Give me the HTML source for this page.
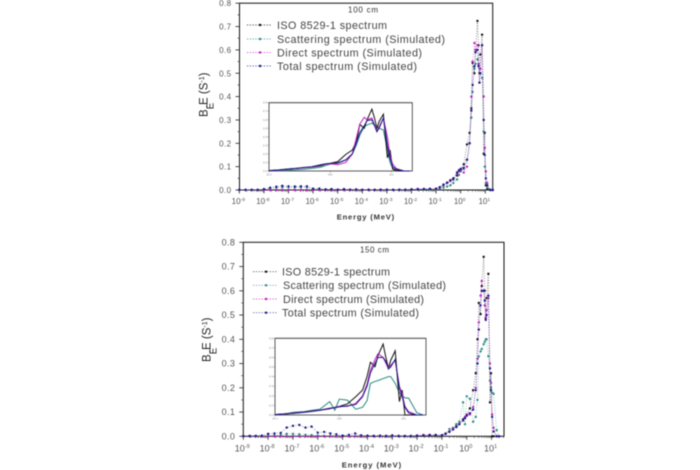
<!DOCTYPE html>
<html>
<head>
<meta charset="utf-8">
<title>Neutron spectra at 100 cm and 150 cm</title>
<style>
html,body{margin:0;padding:0;background:#fff;width:700px;height:470px;overflow:hidden}
svg{display:block;filter:blur(0.45px)}
text{font-family:"Liberation Sans",sans-serif}
</style>
</head>
<body>
<svg id="figure" xmlns="http://www.w3.org/2000/svg" width="700" height="470" viewBox="0 0 700 470"></svg>
<script>
const xTickExponents = [-9,-8,-7,-6,-5,-4,-3,-2,-1,0,1];
const yTickValues = [0,0.1,0.2,0.3,0.4,0.5,0.6,0.7,0.8];
const insetXExponents = [-1,0,1];
const seriesNames = ["ISO 8529-1 spectrum","Scattering spectrum (Simulated)","Direct spectrum (Simulated)","Total spectrum (Simulated)"];

const lowEnergies = [1e-9,1.8e-9,3.2e-9,5.6e-9,1e-8,1.8e-8,3.2e-8,5.6e-8,1e-7,1.8e-7,3.2e-7,5.6e-7,1e-6,1.8e-6,3.2e-6,5.6e-6,1e-5,1.8e-5,3.2e-5,5.6e-5,1e-4,1.8e-4,3.2e-4,5.6e-4,1e-3,1.8e-3,3.2e-3,5.6e-3,1e-2,1.8e-2,3.2e-2,5.6e-2];
const highEnergies = [0.1,0.14,0.2,0.28,0.38,0.5,0.71,0.85,1,1.33,1.8,2.3,2.7,3.05,3.6,4,4.8,5.3,5.8,6.3,7.4,8.6,9.5,10.5,12,16,20];

const topLowIso = [0,0,0,0,0,0,0,0,0,0,0,0,0,0,0,0,0,0,0,0,0,0,0,0,0,0,0,0,0.002,0.002,0.003,0.004];
const topLowScatter = [0,0,0,0,0.002,0.006,0.01,0.012,0.012,0.011,0.012,0.012,0.006,0.004,0.002,0.003,0.001,0.002,0.001,0.001,0,0,0,0,0,0,0,0,0.001,0.001,0.002,0.002];
const topLowDirect = [0,0,0,0,0,0,0,0,0,0,0,0,0,0,0,0,0,0,0,0,0,0,0,0,0.001,0.001,0.002,0.002,0.004,0.005,0.005,0.005];
const topLowTotal = [0.001,0.001,0.001,0.001,0.004,0.01,0.014,0.018,0.016,0.015,0.016,0.016,0.005,0.006,0.003,0.004,0.002,0.004,0.002,0.003,0.001,0.002,0.001,0.002,0.002,0.001,0.001,0.001,0.002,0.003,0.004,0.005];

const topIso = [0.005,0.01,0.023,0.03,0.04,0.045,0.062,0.08,0.09,0.11,0.195,0.245,0.35,0.545,0.5,0.6,0.724,0.62,0.5,0.58,0.665,0.155,0.245,0.02,0.005,0,0];
const topScatter = [0.002,0.005,0.01,0.015,0.02,0.03,0.045,0.065,0.08,0.09,0.13,0.2,0.31,0.42,0.52,0.54,0.56,0.54,0.52,0.5,0.48,0.25,0.1,0.03,0.01,0,0];
const topDirect = [0.005,0.01,0.02,0.03,0.038,0.048,0.07,0.08,0.085,0.075,0.1,0.2,0.4,0.55,0.63,0.6,0.62,0.54,0.46,0.52,0.62,0.4,0.18,0.08,0.03,0,0];
const topTotal = [0.006,0.012,0.022,0.032,0.042,0.05,0.075,0.085,0.09,0.095,0.13,0.2,0.34,0.45,0.53,0.59,0.6,0.53,0.46,0.5,0.62,0.3,0.15,0.05,0.02,0,0];

const botLowIso = [0,0,0,0,0,0,0,0,0,0,0,0,0,0,0,0,0,0,0,0,0,0,0,0,0,0,0,0,0.002,0.003,0.004,0.004];
const botLowScatter = [0,0,0,0,0.002,0.004,0.006,0.01,0.01,0.008,0.006,0.005,0.003,0.002,0.002,0.002,0.001,0.001,0.001,0.001,0,0,0,0,0,0,0,0,0.002,0.004,0.006,0.006];
const botLowDirect = [0,0,0,0,0,0,0,0,0,0,0,0,0,0,0,0,0,0,0,0,0,0,0,0,0.001,0.001,0.002,0.002,0.004,0.006,0.006,0.005];
const botLowTotal = [0.001,0.002,0.002,0.003,0.01,0.012,0.014,0.036,0.043,0.047,0.036,0.04,0.015,0.018,0.012,0.008,0.003,0.006,0.012,0.004,0.003,0.002,0.003,0.002,0.004,0.002,0.001,0.001,0.002,0.003,0.004,0.005];

const botIso = [0.005,0.012,0.02,0.03,0.042,0.05,0.065,0.08,0.09,0.115,0.19,0.26,0.4,0.55,0.504,0.62,0.74,0.6,0.487,0.57,0.67,0.14,0.26,0,0,0,0];
const botScatter = [0.004,0.01,0.03,0.035,0.05,0.06,0.14,0.05,0.165,0.155,0.06,0.08,0.15,0.33,0.35,0.36,0.38,0.39,0.4,0.4,0.33,0.23,0.2,0.18,0.175,0.025,0];
const botDirect = [0.004,0.01,0.02,0.03,0.04,0.05,0.07,0.08,0.09,0.09,0.12,0.2,0.32,0.47,0.58,0.64,0.6,0.54,0.49,0.52,0.57,0.3,0.22,0.09,0.035,0,0];
const botTotal = [0.004,0.01,0.018,0.028,0.038,0.05,0.07,0.075,0.085,0.095,0.11,0.19,0.3,0.44,0.54,0.6,0.6,0.56,0.48,0.5,0.58,0.28,0.19,0.08,0.02,0,0];

const seriesColors = ["#111111","#2a8a80","#c420c4","#1a1a86"];
const NS = "http://www.w3.org/2000/svg";
const fig = document.getElementById("figure");

function add(parent, tag, attrs, txt){
  const e = document.createElementNS(NS, tag);
  for (const k in attrs) e.setAttribute(k, attrs[k]);
  if (txt !== undefined) e.textContent = txt;
  parent.appendChild(e);
  return e;
}

function drawChart(c){
  const g = add(fig, "g", {});
  
  
  const sx = e => c.x0 + (Math.log10(e) + 9) * c.dec;
  const sy = v => c.bottom - v / 0.8 * (c.bottom - c.top);

  // frame
  const frame = add(g, "rect", {x:c.left, y:c.top, width:c.right-c.left, height:c.bottom-c.top, fill:"none", stroke:"#111", "stroke-width":1});
  
  

  // y axis
  yTickValues.forEach(v => {
    add(g, "line", {x1:c.left-4, x2:c.left, y1:sy(v), y2:sy(v), stroke:"#222", "stroke-width":0.8});
    if (v < 0.8) add(g, "line", {x1:c.left-2, x2:c.left, y1:sy(v+0.05), y2:sy(v+0.05), stroke:"#222", "stroke-width":0.6});
    const t = add(g, "text", {x:c.left-8, y:sy(v)+3, "text-anchor":"end", "font-size":c.tickSize, fill:"#555", "letter-spacing":0.4}, v.toFixed(1));
    
    
  });

  // x axis
  xTickExponents.forEach(ex => {
    const px = sx(Math.pow(10, ex));
    add(g, "line", {x1:px, x2:px, y1:c.bottom, y2:c.bottom+3.5, stroke:"#222", "stroke-width":0.8});
    [2,3,4,5,6,7,8,9].forEach(m => {
      const q = sx(m * Math.pow(10, ex));
      if (q < c.right) add(g, "line", {x1:q, x2:q, y1:c.bottom, y2:c.bottom+1.8, stroke:"#333", "stroke-width":0.5});
    });
    const t = add(g, "text", {x:px-1, y:c.bottom+c.xLabelDy, "text-anchor":"middle", "font-size":c.tickSize, fill:"#555"});
    
    
    add(t, "tspan", {}, "10");
    add(t, "tspan", {dy:-3.2, "font-size":c.tickSize*0.62}, String(ex));
  });

  // main series
  c.high.forEach((vals, i) => {
    const lowVals = c.low[i];
    const pts = lowEnergies.map((e,j)=>[sx(e), sy(lowVals[j])]).concat(highEnergies.map((e,j)=>[sx(e), sy(vals[j])]));
    const line = add(g, "polyline", {points:pts.map(p=>p.join(",")).join(" "), fill:"none", stroke:seriesColors[i], "stroke-width":0.55, "stroke-dasharray":"0.8 1.8"});
    
    
    pts.forEach(p => {
      const m = add(g, "circle", {cx:p[0], cy:p[1], r:1.2, fill:seriesColors[i]});
      
      
    });
  });

  // title and axis titles
  const title = add(g, "text", {x:c.titleX, y:c.titleY, "font-size":8, fill:"#333", textLength:c.titleW, lengthAdjust:"spacing"}, c.title);
  
  

  const xt = add(g, "text", {x:c.xTitleX, y:c.xTitleY, "font-size":7.6, "font-weight":"bold", fill:"#333", textLength:c.xTitleW, lengthAdjust:"spacing"}, "Energy (MeV)");
  
  

  const yt = add(g, "text", {transform:"translate("+c.yTitleX+","+c.yTitleY+") rotate(-90)", "font-size":11.5, fill:"#222"});
  
  
  add(yt, "tspan", {}, "B");
  add(yt, "tspan", {dy:6, "font-size":10}, "E");
  add(yt, "tspan", {dy:-6, dx:-5.5}, ".E (S");
  add(yt, "tspan", {dy:-3.5, "font-size":7}, "-1");
  add(yt, "tspan", {dy:3.5}, ")");

  // legend
  seriesNames.forEach((n,i) => {
    const y = c.legendY[i];
    const entry = add(g, "g", {});
    
    
    add(entry, "line", {x1:c.legendLineX, x2:c.legendLineX+24, y1:y, y2:y, stroke:seriesColors[i], "stroke-width":0.7, "stroke-dasharray":"1.2 1.6"});
    add(entry, "circle", {cx:c.legendLineX+13, cy:y, r:1.2, fill:seriesColors[i]});
    add(entry, "text", {x:c.legendTextX[i], y:y+3.8, "font-size":10.8, fill:"#444", textLength:c.legendW[i], lengthAdjust:"spacing"}, n);
  });

  // inset
  const ins = add(g, "g", {});
  
  
  const ix = e => c.inLeft + (Math.log10(e) + 1) * c.inDec;
  const iy = v => c.inBottom - v / 0.8 * (c.inBottom - c.inTop);
  add(ins, "rect", {x:c.inLeft, y:c.inTop, width:c.inRight-c.inLeft, height:c.inBottom-c.inTop, fill:"#fff", stroke:"#333", "stroke-width":0.8});
  add(ins, "line", {x1:c.inLeft, x2:c.inRight, y1:c.inTop, y2:c.inTop, stroke:"#666", "stroke-width":1.2});
  yTickValues.forEach(v => {
    add(ins, "line", {x1:c.inLeft-1.5, x2:c.inLeft, y1:iy(v), y2:iy(v), stroke:"#555", "stroke-width":0.4});
    add(ins, "text", {x:c.inLeft-2, y:iy(v)+1, "text-anchor":"end", "font-size":2.8, fill:"#888"}, v.toFixed(1));
  });
  insetXExponents.forEach(ex => {
    const px = ix(Math.pow(10, ex));
    add(ins, "line", {x1:px, x2:px, y1:c.inBottom, y2:c.inBottom+1.5, stroke:"#555", "stroke-width":0.4});
    add(ins, "text", {x:px, y:c.inBottom+4.5, "text-anchor":"middle", "font-size":2.8, fill:"#888"}, "10" + ex);
  });
  [1,0,2,3].forEach(i => {
    const p = highEnergies.map((e,j)=>ix(e)+","+iy(c.high[i][j])).join(" ");
    const l = add(ins, "polyline", {points:p, fill:"none", stroke:seriesColors[i], "stroke-width":1});
    
    
  });
}

drawChart({
  name:"chart-100cm", title:"100 cm",
  left:239.5, right:492.7, top:3.2, bottom:190, x0:239.3, dec:24.6,
  tickSize:8, xLabelDy:14,
  titleX:348, titleY:12.5, titleW:30,
  xTitleX:336.7, xTitleY:219.5, xTitleW:57.5,
  yTitleX:207.7, yTitleY:117,
  legendY:[25,39,52.5,66], legendLineX:247,
  legendTextX:[277,277,277,277], legendW:[110,168,145,140],
  inLeft:269, inRight:412.3, inTop:102.7, inBottom:171, inDec:61.2,
  high:[topIso,topScatter,topDirect,topTotal],
  low:[topLowIso,topLowScatter,topLowDirect,topLowTotal]
});

drawChart({
  name:"chart-150cm", title:"150 cm",
  left:243.3, right:504, top:242.3, bottom:436.3, x0:243.3, dec:24.83,
  tickSize:9, xLabelDy:15,
  titleX:360, titleY:252.7, titleW:29,
  xTitleX:341.7, xTitleY:467.5, xTitleW:59.5,
  yTitleX:210.7, yTitleY:362,
  legendY:[271.7,285.3,299,312.7], legendLineX:253,
  legendTextX:[282,283,283,282], legendW:[108,163,141,137],
  inLeft:275, inRight:426, inTop:338.3, inBottom:415, inDec:64.3,
  high:[botIso,botScatter,botDirect,botTotal],
  low:[botLowIso,botLowScatter,botLowDirect,botLowTotal]
});
</script>
</body>
</html>
